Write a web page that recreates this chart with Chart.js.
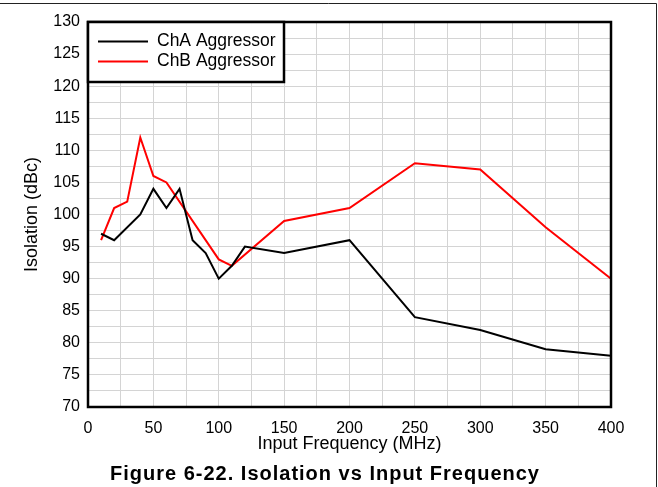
<!DOCTYPE html>
<html>
<head>
<meta charset="utf-8">
<script src="https://cdn.jsdelivr.net/npm/chart.js@4"></script>
<style>
  html, body { margin: 0; padding: 0; background: #fff; }
  #wrap { width: 658px; height: 487px; position: relative; }
</style>
</head>
<body>
<div id="wrap"><canvas id="c" width="658" height="487"></canvas></div>
<script>
// ---- data ----
const freqA = [10, 20, 40, 50, 60, 70, 80, 90, 100, 110, 120, 150, 200, 250, 300, 350, 400];
const chA   = [97, 96, 100, 104, 101, 104, 96, 94, 90, 92, 95, 94, 96, 84, 82, 79, 78];
const freqB = [10, 20, 30, 40, 50, 60, 100, 110, 150, 200, 250, 300, 350, 400];
const chB   = [96, 101, 102, 112, 106, 105, 93, 92, 99, 101, 108, 107, 98, 90];
const seriesLabels = ['ChA Aggressor', 'ChB Aggressor'];
const xTicks = [0, 50, 100, 150, 200, 250, 300, 350, 400];
const yTicks = [70, 75, 80, 85, 90, 95, 100, 105, 110, 115, 120, 125, 130];
const xTitle = 'Input Frequency (MHz)';
const yTitle = 'Isolation (dBc)';
const figTitle = 'Figure 6-22. Isolation vs Input Frequency';

const FONT = '"Liberation Sans", Arial, sans-serif';

const framePlugin = {
  id: 'frame',
  beforeDraw(chart) {
    const ctx = chart.ctx;
    ctx.save();
    ctx.strokeStyle = '#222';
    ctx.lineWidth = 1;
    ctx.beginPath();
    ctx.moveTo(0, 3.5); ctx.lineTo(656.5, 3.5); ctx.lineTo(656.5, 487);
    ctx.stroke();
    ctx.restore();
  },
  afterDraw(chart) {
    const ctx = chart.ctx;
    const a = chart.chartArea;
    ctx.save();
    // plot border
    ctx.strokeStyle = '#000';
    ctx.lineWidth = 2.5;
    ctx.strokeRect(a.left, a.top, a.right - a.left, a.bottom - a.top);
    // legend box
    const lx = a.left, ly = a.top, lw = 196, lh = 60;
    ctx.fillStyle = '#fff';
    ctx.fillRect(lx, ly, lw, lh);
    ctx.strokeRect(lx, ly, lw, lh);
    ctx.font = '17.5px ' + FONT;
    ctx.textBaseline = 'middle';
    ctx.textAlign = 'left';
    chart.data.datasets.forEach((ds, i) => {
      const y = ly + 19.5 + i * 20;
      ctx.strokeStyle = ds.borderColor;
      ctx.lineWidth = 2;
      ctx.beginPath();
      ctx.moveTo(lx + 10, y); ctx.lineTo(lx + 60, y);
      ctx.stroke();
      ctx.fillStyle = '#000';
      ctx.fillText(ds.label, lx + 69, y);
    });
    // figure title
    ctx.font = 'bold 20px ' + FONT;
    if ('letterSpacing' in ctx) ctx.letterSpacing = '1px';
    ctx.textAlign = 'center';
    ctx.textBaseline = 'alphabetic';
    ctx.fillStyle = '#000';
    ctx.fillText(figTitle, 325, 480);
    ctx.restore();
  }
};

new Chart(document.getElementById('c'), {
  type: 'line',
  data: {
    datasets: [
      {
        label: seriesLabels[0],
        data: freqA.map((f, i) => ({ x: f, y: chA[i] })),
        borderColor: '#000000',
        borderWidth: 2,
        pointRadius: 0,
        tension: 0,
        fill: false
      },
      {
        label: seriesLabels[1],
        data: freqB.map((f, i) => ({ x: f, y: chB[i] })),
        borderColor: '#ff0000',
        borderWidth: 2,
        pointRadius: 0,
        tension: 0,
        fill: false
      }
    ]
  },
  options: {
    responsive: false,
    animation: false,
    devicePixelRatio: 1,
    layout: { padding: { top: 22, right: 47, left: 0, bottom: 32 } },
    plugins: {
      legend: { display: false },
      title: { display: false },
      tooltip: { enabled: false }
    },
    scales: {
      x: {
        type: 'linear',
        min: 0, max: 400,
        afterFit(s) { s.height = 48; },
        grid: { color: '#d4d4d4', lineWidth: 1, drawTicks: false },
        border: { display: false },
        ticks: {
          stepSize: 25,
          autoSkip: false,
          maxRotation: 0,
          padding: 12,
          color: '#000',
          font: { family: FONT, size: 16 },
          callback: v => xTicks.includes(v) ? String(v) : ''
        },
        title: {
          display: true,
          text: xTitle,
          color: '#000',
          font: { family: FONT, size: 18 },
          padding: { top: 0, bottom: 0 }
        }
      },
      y: {
        type: 'linear',
        min: 70, max: 130,
        afterFit(s) { s.width = 88; },
        grid: { color: '#d4d4d4', lineWidth: 1, drawTicks: false },
        border: { display: false },
        ticks: {
          stepSize: 2.5,
          autoSkip: false,
          padding: 8,
          color: '#000',
          font: { family: FONT, size: 16 },
          callback: v => yTicks.includes(v) ? String(v) : ''
        },
        title: {
          display: true,
          text: yTitle,
          color: '#000',
          font: { family: FONT, size: 18 },
          padding: { top: 21, bottom: 0 }
        }
      }
    }
  },
  plugins: [framePlugin]
});
</script>
</body>
</html>
